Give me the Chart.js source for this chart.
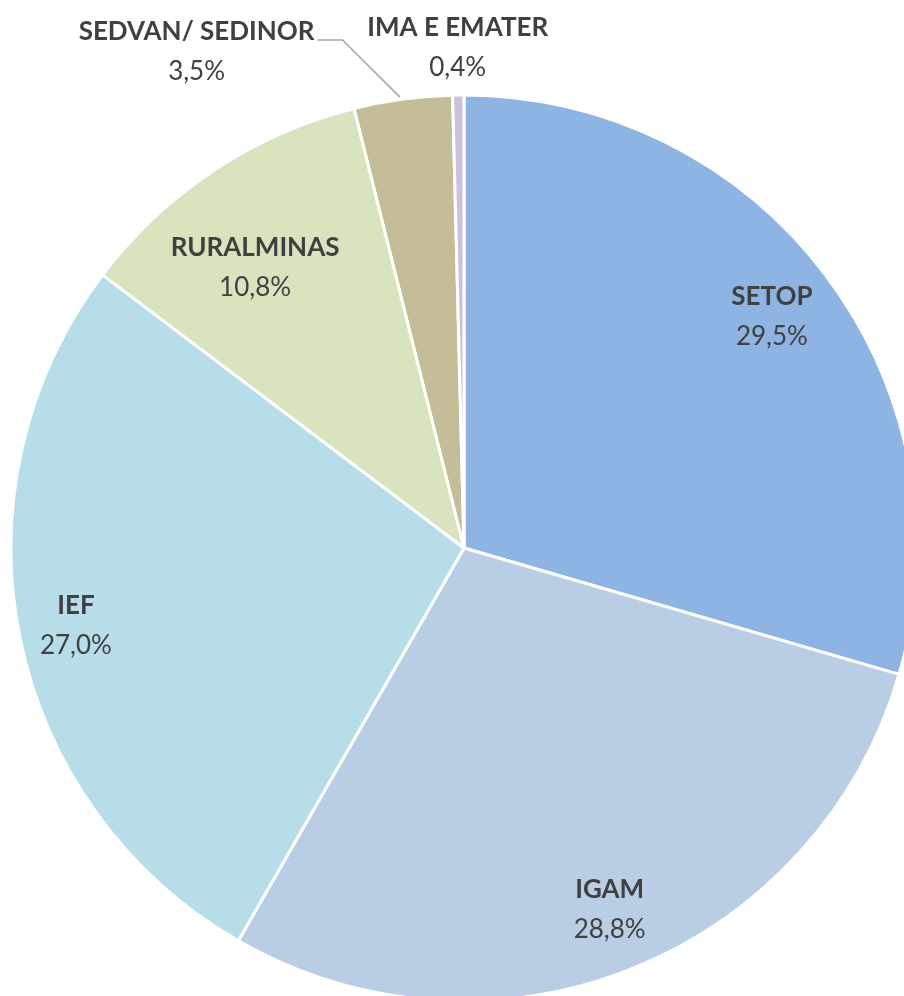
<!DOCTYPE html>
<html>
<head>
<meta charset="utf-8">
<script src="https://cdn.jsdelivr.net/npm/chart.js@4"></script>
<style>
  html, body { margin: 0; padding: 0; background: #fff; }
  #wrap { width: 904px; height: 996px; position: relative; overflow: hidden; }
</style>
</head>
<body>
<div id="wrap"><canvas id="pie"></canvas></div>
<script>
// values (percent)
const categories = ["SETOP", "IGAM", "IEF", "RURALMINAS", "SEDVAN/ SEDINOR", "IMA E EMATER"];
const shares = [29.5, 28.8, 27.0, 10.8, 3.5, 0.4];
const sliceColors = ["#8eb4e3", "#b9cde5", "#b7dee8", "#d7e4bd", "#c4bd97", "#ccc1da"];

// label placement: fraction of radius along mid angle, plus extra shift for crowded labels
const labelRadius = [0.85, 0.86, 0.89, 0.78, 1.105, 1.105];
const labelShiftX = [0, 0, 7, -14, -200, 0];
const labelShiftY = [0, 0, -3, 14, 0, 0];

const pieLabels = {
  id: "pieLabels",
  afterDatasetsDraw(chart) {
    const ctx = chart.ctx;
    const arcs = chart.getDatasetMeta(0).data;
    ctx.save();
    ctx.textAlign = "center";
    ctx.textBaseline = "middle";
    arcs.forEach((arc, i) => {
      const p = arc.getProps(["x", "y", "startAngle", "endAngle", "outerRadius"], true);
      const mid = (p.startAngle + p.endAngle) / 2;
      const r = p.outerRadius * labelRadius[i];
      let lx = p.x + Math.cos(mid) * r + labelShiftX[i];
      let ly = p.y + Math.sin(mid) * r + labelShiftY[i];
      if (i == 4) {
        // leader line from label to slice edge
        const ex = p.x + Math.cos(mid) * p.outerRadius;
        const ey = p.y + Math.sin(mid) * p.outerRadius;
        ctx.font = "bold 26px Lato";
        const w = ctx.measureText(categories[i]).width;
        ctx.strokeStyle = "#a6a6a6";
        ctx.lineWidth = 1.5;
        ctx.beginPath();
        ctx.moveTo(lx + w / 2 + 3, ly - 12);
        ctx.lineTo(lx + w / 2 + 28, ly - 12);
        ctx.lineTo(ex - 3, ey - 2);
        ctx.stroke();
      }
      ctx.fillStyle = "#404040";
      ctx.font = "bold 26px Lato";
      ctx.fillText(categories[i], lx, ly - 20);
      ctx.font = "26px Lato";
      ctx.fillText(shares[i].toFixed(1).replace(".", ",") + "%", lx, ly + 20);
    });
    ctx.restore();
  },
};

const chart = new Chart(document.getElementById("pie"), {
  type: "pie",
  data: {
    labels: categories,
    datasets: [
      {
        data: shares,
        backgroundColor: sliceColors,
        borderColor: "#ffffff",
        borderWidth: 3,
        radius: 453,
        clip: false,
      },
    ],
  },
  options: {
    responsive: true,
    maintainAspectRatio: false,
    animation: false,
    layout: {
      padding: { left: 24, right: 0, top: 100, bottom: 0 },
    },
    plugins: {
      legend: { display: false },
      tooltip: { enabled: false },
    },
  },
  plugins: [pieLabels],
});
</script>
</body>
</html>
